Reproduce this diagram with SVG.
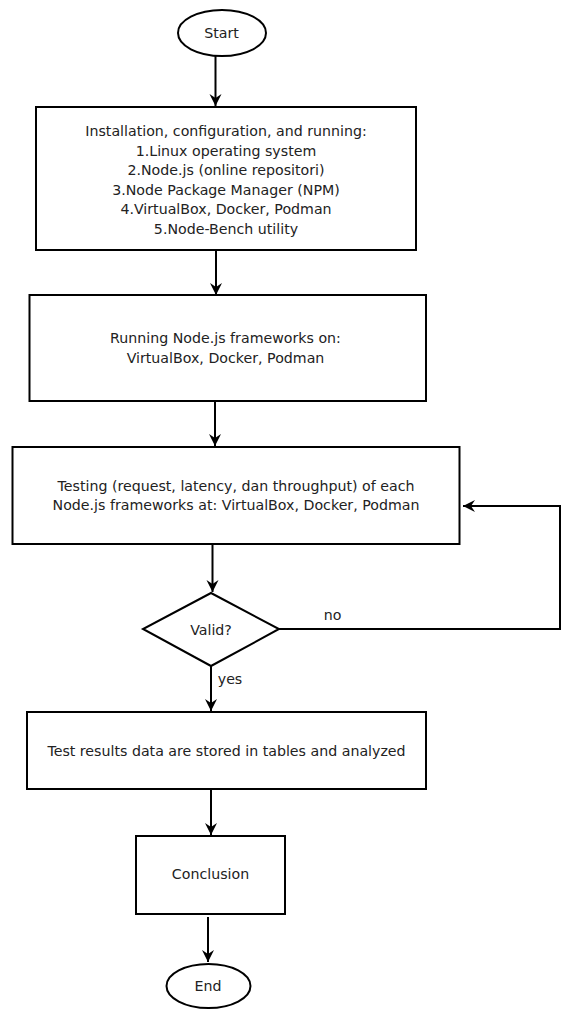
<svg xmlns="http://www.w3.org/2000/svg" width="564" height="1010" viewBox="0 0 564 1010">
<style>
.n{fill:#fff;stroke:#000;stroke-width:2}
.t{font-family:"DejaVu Sans",sans-serif;font-size:14.2px;fill:#222;text-anchor:middle}
.c{fill:none;stroke:#000;stroke-width:2}
</style>
<defs>
<marker id="ah" markerUnits="userSpaceOnUse" markerWidth="14" markerHeight="14" refX="12" refY="7" orient="auto">
<path d="M0,1 L12,7 L0,13 L4,7 z" fill="#000"/>
</marker>
</defs>
<rect width="564" height="1010" fill="#fff"/>
<g id="connectors">
<line class="c" x1="215.5" y1="56" x2="215.5" y2="106" marker-end="url(#ah)"/>
<line class="c" x1="216" y1="250" x2="216" y2="295" marker-end="url(#ah)"/>
<line class="c" x1="215" y1="401" x2="215" y2="446" marker-end="url(#ah)"/>
<line class="c" x1="212.5" y1="544" x2="212.5" y2="592" marker-end="url(#ah)"/>
<path class="c" d="M279,629 H560 V506 H463" marker-end="url(#ah)"/>
<text class="t" x="332.5" y="620">no</text>
<line class="c" x1="211" y1="666" x2="211" y2="711" marker-end="url(#ah)"/>
<text class="t" x="230" y="684">yes</text>
<line class="c" x1="211" y1="789" x2="211" y2="835" marker-end="url(#ah)"/>
<line class="c" x1="208" y1="917" x2="208" y2="962" marker-end="url(#ah)"/>
</g>
<g id="start">
<ellipse class="n" cx="222" cy="33" rx="44" ry="23"/>
<text class="t" x="221.5" y="38">Start</text>
</g>
<g id="install">
<rect class="n" x="36" y="107" width="380" height="143"/>
<text class="t" x="226" y="136">Installation, configuration, and running:</text>
<text class="t" x="226" y="155.5">1.Linux operating system</text>
<text class="t" x="226" y="175">2.Node.js (online repositori)</text>
<text class="t" x="226" y="194.5">3.Node Package Manager (NPM)</text>
<text class="t" x="226" y="214">4.VirtualBox, Docker, Podman</text>
<text class="t" x="226" y="233.5">5.Node-Bench utility</text>
</g>
<g id="running">
<rect class="n" x="29.5" y="295" width="396.5" height="106"/>
<text class="t" x="225.5" y="343">Running Node.js frameworks on:</text>
<text class="t" x="225.5" y="362.5">VirtualBox, Docker, Podman</text>
</g>
<g id="testing">
<rect class="n" x="12.5" y="447" width="447" height="97"/>
<text class="t" x="236" y="491">Testing (request, latency, dan throughput) of each</text>
<text class="t" x="236" y="510">Node.js frameworks at: VirtualBox, Docker, Podman</text>
</g>
<g id="valid">
<polygon class="n" points="211,593 279,629 211,666 143,629"/>
<text class="t" x="211" y="635">Valid?</text>
</g>
<g id="results">
<rect class="n" x="27" y="712" width="399" height="77"/>
<text class="t" x="226.5" y="756">Test results data are stored in tables and analyzed</text>
</g>
<g id="conclusion">
<rect class="n" x="136" y="836" width="149" height="78"/>
<text class="t" x="210.5" y="879">Conclusion</text>
</g>
<g id="end">
<ellipse class="n" cx="208.5" cy="986" rx="42" ry="22"/>
<text class="t" x="208" y="991">End</text>
</g>
</svg>
